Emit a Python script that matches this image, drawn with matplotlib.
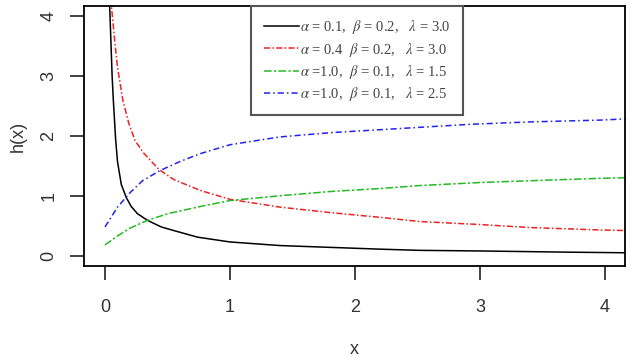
import matplotlib
matplotlib.use("Agg")
import matplotlib.pyplot as plt
from matplotlib.font_manager import FontProperties

plt.rcParams['mathtext.fontset'] = 'stix'

# values
x_black = [0.035, 0.048, 0.057, 0.067, 0.085, 0.10, 0.13, 0.17, 0.21, 0.26, 0.34, 0.45, 0.55, 0.74, 1.0, 1.4, 1.8, 2.2, 2.52, 3.0, 3.7, 4.16]
y_black = [4.3, 3.54, 3.0, 2.59, 1.95, 1.58, 1.2, 0.98, 0.83, 0.71, 0.60, 0.49, 0.43, 0.32, 0.24, 0.18, 0.15, 0.12, 0.10, 0.09, 0.07, 0.06]

x_red = [0.045, 0.06, 0.08, 0.10, 0.144, 0.19, 0.24, 0.31, 0.43, 0.55, 0.76, 1.0, 1.4, 1.8, 2.2, 2.52, 3.0, 3.4, 3.96, 4.16]
y_red = [4.3, 3.98, 3.54, 3.15, 2.59, 2.22, 1.93, 1.72, 1.45, 1.28, 1.10, 0.95, 0.82, 0.73, 0.65, 0.58, 0.53, 0.48, 0.44, 0.43]

x_green = [0.0, 0.1, 0.2, 0.34, 0.5, 0.76, 1.0, 1.4, 1.8, 2.2, 2.52, 3.0, 3.4, 3.96, 4.16]
y_green = [0.19, 0.34, 0.47, 0.60, 0.71, 0.83, 0.93, 1.01, 1.08, 1.13, 1.18, 1.23, 1.26, 1.30, 1.31]

x_blue = [0.0, 0.1, 0.2, 0.3, 0.44, 0.6, 0.76, 1.0, 1.4, 1.8, 2.2, 2.52, 2.92, 3.4, 3.96, 4.16]
y_blue = [0.49, 0.82, 1.06, 1.26, 1.43, 1.58, 1.71, 1.86, 1.99, 2.06, 2.11, 2.15, 2.20, 2.24, 2.27, 2.29]

labels = [r'$\alpha$ = 0.1,  $\beta$ = 0.2,   $\lambda$ = 3.0',
          r'$\alpha$ = 0.4  $\beta$ = 0.2,   $\lambda$ = 3.0',
          r'$\alpha$ =1.0,  $\beta$ = 0.1,   $\lambda$ = 1.5',
          r'$\alpha$ =1.0,  $\beta$ = 0.1,   $\lambda$ = 2.5']

fig = plt.figure(figsize=(6.34, 3.57), dpi=100)
ax = fig.add_axes([0.1325, 0.255, 0.8533, 0.728])

ax.plot(x_black, y_black, color='black', lw=1.1, label=labels[0])
ax.plot(x_red, y_red, color='#ee2222', lw=1.1, dashes=(4, 1.5, 1, 1.5), label=labels[1])
ax.plot(x_green, y_green, color='#22bb22', lw=1.1, dashes=(5, 1.5, 1.5, 1.5), label=labels[2])
ax.plot(x_blue, y_blue, color='#2222ee', lw=1.1, dashes=(4, 2, 1, 2), label=labels[3])

ax.set_xlim(-0.168, 4.16)
ax.set_ylim(-0.16, 4.17)
ax.set_xticks([0, 1, 2, 3, 4])
ax.set_yticks([0, 1, 2, 3, 4])

for s in ax.spines.values():
    s.set_linewidth(1.3)
ax.tick_params(length=10, width=1.3, pad=14, labelsize=13, colors='#333333')
ax.tick_params(axis='y', labelrotation=90, pad=9)
for t in ax.get_xticklabels() + ax.get_yticklabels():
    t.set_fontfamily('Liberation Sans')
for t in ax.get_yticklabels():
    t.set_verticalalignment('center')

ax.set_xlabel('x', fontsize=13, family='Liberation Sans', labelpad=18, color='#333333')
ax.set_ylabel('h(x)', fontsize=13, family='Liberation Sans', labelpad=10, color='#333333')

leg = ax.legend(loc='upper left', bbox_to_anchor=(0.309, 1.0), fancybox=False,
                prop=FontProperties(family='Liberation Serif', size=10.5),
                handlelength=2.4, handletextpad=0.1, labelspacing=0.28,
                borderpad=0.85, borderaxespad=0, framealpha=1)
leg.get_frame().set_edgecolor('#555555')
leg.get_frame().set_linewidth(1.5)
for t in leg.get_texts():
    t.set_color('#444444')

fig.savefig('out.png', dpi=100)
